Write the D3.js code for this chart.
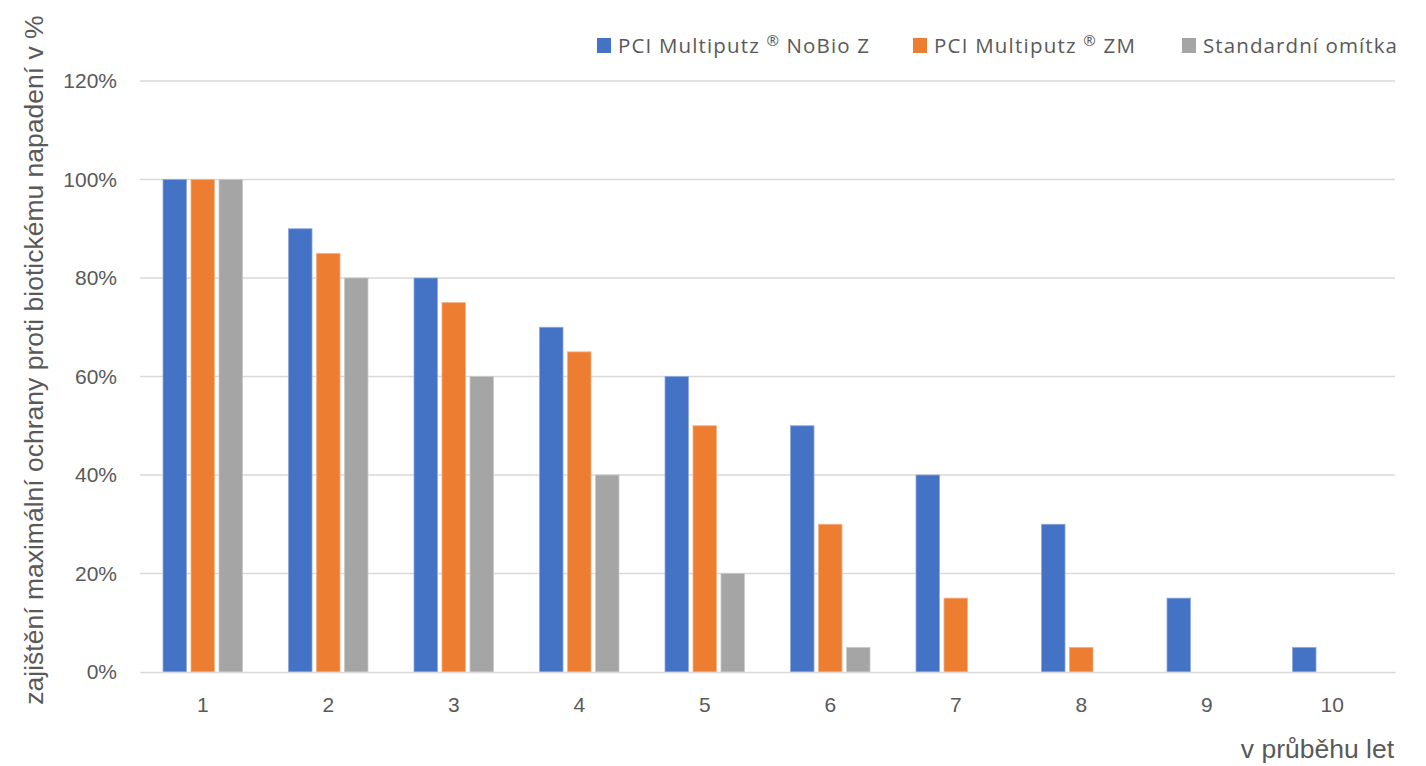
<!DOCTYPE html>
<html>
<head>
<meta charset="utf-8">
<script src="https://cdn.jsdelivr.net/npm/d3@7"></script>
<style>
  html, body { margin: 0; padding: 0; background: #fff; }
  svg { display: block; }
</style>
</head>
<body>
<svg id="chart" width="1426" height="766"></svg>
<script>
const categories = ["1", "2", "3", "4", "5", "6", "7", "8", "9", "10"];
const seriesNames = ["PCI Multiputz ® NoBio Z", "PCI Multiputz ® ZM", "Standardní omítka"];
const nobioZ   = [100, 90, 80, 70, 60, 50, 40, 30, 15, 5];
const zm       = [100, 85, 75, 65, 50, 30, 15, 5, 0, 0];
const standard = [100, 80, 60, 40, 20, 5, 0, 0, 0, 0];
const yTicks = [0, 20, 40, 60, 80, 100, 120];
const colors = ["#4472C4", "#ED7D31", "#A5A5A5"];
const strokes = ["#8FAADC", "#F4B183", "#C9C9C9"];
const yTitle = "zajištění maximální ochrany proti biotickému napadení v %";
const xTitle = "v průběhu let";

const seriesValues = [nobioZ, zm, standard];
const svg = d3.select("#chart");
const textColor = "#595959";
const font = "'Liberation Sans', Arial, sans-serif";

const x0 = d3.scaleBand().domain(categories).range([140, 1395]).paddingInner(0).paddingOuter(0);
const x1 = d3.scaleBand().domain(d3.range(3)).range([-39.75, 39.75]).paddingInner(0.16).paddingOuter(0);
const y = d3.scaleLinear().domain([0, 120]).range([672, 81]);

// gridlines
svg.append("g").selectAll("line").data(yTicks.filter(d => d > 0)).join("line")
  .attr("x1", 140).attr("x2", 1395)
  .attr("y1", d => y(d)).attr("y2", d => y(d))
  .attr("stroke", "#D9D9D9").attr("stroke-width", 1.3);

// y axis labels
const yAxis = d3.axisLeft(y).tickValues(yTicks).tickFormat(d => d + "%").tickSize(0).tickPadding(0);
const yg = svg.append("g").attr("transform", "translate(117,0)").call(yAxis);
yg.select(".domain").remove();
yg.selectAll("text").attr("fill", textColor).style("font-family", font).style("font-size", "21px");

// bars
const groups = svg.append("g").selectAll("g").data(categories).join("g")
  .attr("transform", d => `translate(${x0(d) + x0.bandwidth() / 2},0)`);
groups.selectAll("rect")
  .data((c, i) => seriesValues.map((s, k) => ({k, v: s[i]})).filter(d => d.v > 0))
  .join("rect")
  .attr("x", d => x1(d.k))
  .attr("width", x1.bandwidth())
  .attr("y", d => y(d.v))
  .attr("height", d => y(0) - y(d.v))
  .attr("fill", d => colors[d.k])
  .attr("stroke", d => strokes[d.k])
  .attr("stroke-width", 0.8);

// x axis
const xAxis = d3.axisBottom(x0).tickSize(0).tickPadding(0);
const xg = svg.append("g").attr("transform", "translate(0,672)").call(xAxis);
xg.select(".domain").attr("stroke", "#D9D9D9").attr("stroke-width", 1.5);
xg.selectAll("text").attr("fill", textColor).style("font-family", font).style("font-size", "21px")
  .attr("y", 25).attr("dy", "0.71em");

// axis titles
svg.append("text")
  .attr("transform", "translate(43,360) rotate(-90)")
  .attr("text-anchor", "middle")
  .attr("fill", textColor)
  .style("font-family", font).style("font-size", "26.5px")
  .text(yTitle);
svg.append("text")
  .attr("x", 1394).attr("y", 758)
  .attr("text-anchor", "end")
  .attr("fill", textColor)
  .style("font-family", font).style("font-size", "26.5px")
  .text(xTitle);

// legend
const legendX = [597, 913, 1182];
const legendW = [251, 201, 194];
const legend = svg.append("g").selectAll("g").data(seriesNames).join("g")
  .attr("transform", (d, i) => `translate(${legendX[i]},0)`);
legend.append("rect").attr("x", 0).attr("y", 38).attr("width", 14).attr("height", 15)
  .attr("fill", (d, i) => colors[i]);
legend.each(function(name, i) {
  const t = d3.select(this).append("text")
    .attr("x", 21).attr("y", 53)
    .attr("fill", textColor)
    .style("font-family", "'Open Sans', sans-serif").style("font-size", "20.5px");
  const parts = name.split("®");
  if (parts.length > 1) {
    t.append("tspan").text(parts[0]);
    t.append("tspan").attr("dy", -7).style("font-size", "15px").text("®");
    t.append("tspan").attr("dy", 7).text(parts[1]);
  } else {
    t.text(name);
  }
  const w = t.node().getComputedTextLength();
  const n = name.length;
  const ls = (legendW[i] - w) / (n - 1);
  t.style("letter-spacing", ls + "px");
});
</script>
</body>
</html>
